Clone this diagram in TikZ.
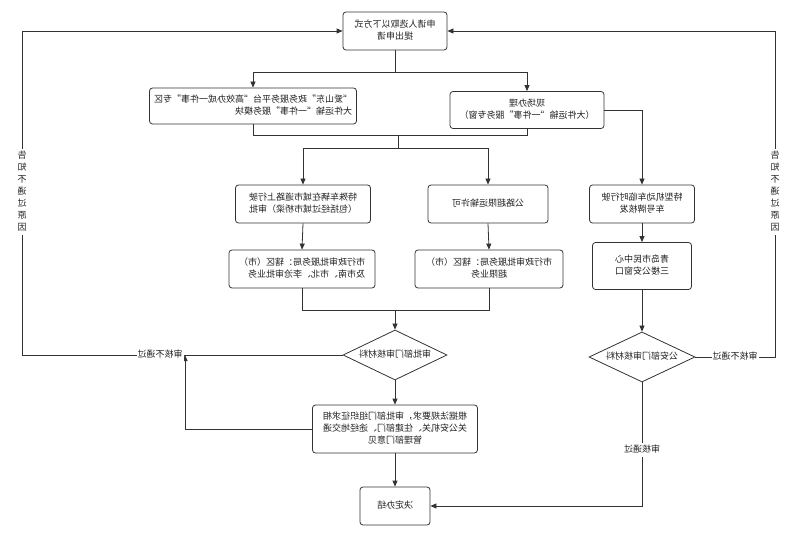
\documentclass[tikz,border=0pt]{standalone}
\usepackage{fontspec}
\usepackage{graphicx}
\setmainfont{Noto Sans CJK SC}
\usetikzlibrary{arrows.meta,shapes.geometric}
\newcommand{\rtext}[2][c]{\reflectbox{\begin{tabular}{@{}#1@{}}#2\end{tabular}}}
\definecolor{ln}{HTML}{333333}
\definecolor{tx}{HTML}{222222}
\begin{document}
\begin{tikzpicture}[x=1pt,y=-1pt,
  font=\fontsize{9}{12}\selectfont,
  box/.style={draw=ln,line width=0.8pt,rounded corners=3pt,fill=white,text=tx,inner sep=2pt,align=center},
  dia/.style={draw=ln,line width=0.8pt,diamond,aspect=2.1,fill=white,text=tx,inner sep=1pt},
  conn/.style={draw=ln,line width=0.8pt},
  arr/.style={conn,-{Triangle[length=6pt,width=5pt]}},
  lab/.style={fill=white,text=tx,inner sep=1pt}]
\useasboundingbox[fill=white] (0,0) rectangle (800,534);
\renewcommand{\arraystretch}{1}
% boxes
\node[box,minimum width=104pt,minimum height=38pt] (b1) at (395,31) {\rtext{申请人选取以下方式\\提出申请}};
\node[box,minimum width=207pt,minimum height=36pt] (b2) at (253,106) {\rtext[l]{“爱山东”政务服务平台“高效办成一件事”专区\\大件运输“一件事”服务模块}};
\node[box,minimum width=154pt,minimum height=37pt] (b3) at (527,110) {\rtext{现场办理\\（大件运输“一件事”服务专窗）}};
\node[box,minimum width=135pt,minimum height=38pt] (b4) at (303,204) {\rtext[l]{特殊车辆在城市道路上行驶\\（包括经过城市桥梁）审批}};
\node[box,minimum width=120pt,minimum height=38pt] (b5) at (488,204) {\rtext{公路超限运输许可}};
\node[box,minimum width=105pt,minimum height=38pt] (b6) at (642,204) {\rtext{特型机动车临时行驶\\车号牌核发}};
\node[box,minimum width=146pt,minimum height=38pt] (b7) at (302,269) {\rtext[l]{市行政审批服务局：辖区（市）\\及市南、市北、李沧审批业务}};
\node[box,minimum width=148pt,minimum height=38pt] (b8) at (489,269) {\rtext{市行政审批服务局：辖区（市）\\超限业务}};
\node[box,minimum width=99pt,minimum height=47pt] (b9) at (642,266) {\rtext{青岛市民中心\\三楼公安窗口}};
\node[dia,minimum width=104pt,minimum height=50pt] (d1) at (395,355) {\rtext{审批部门审核材料}};
\node[dia,minimum width=106pt,minimum height=50pt] (d2) at (642,357) {\rtext{公安部门审核材料}};
\node[box,minimum width=165pt,minimum height=48pt] (b10) at (395,429) {\rtext{根据法规要求，审批部门组织征求相\\关公安机关、住建部门、途经地交通\\管理部门意见}};
\node[box,minimum width=70pt,minimum height=38pt] (b11) at (395,506) {\rtext{决定办结}};
% helper coordinates
\coordinate (s1) at (395,72);
\coordinate (s2) at (253,72);
\coordinate (s3) at (527,72);
\coordinate (j2) at (253,135);
\coordinate (j3) at (527,135);
\coordinate (jm) at (398,135);
\coordinate (jd) at (398,148);
\coordinate (j4) at (303,148);
\coordinate (j5) at (488,148);
\coordinate (r6) at (642,110);
\coordinate (k7) at (302,310);
\coordinate (k8) at (489,310);
\coordinate (km) at (395,310);
\coordinate (lL) at (22,355);
\coordinate (lT) at (22,31);
\coordinate (rL) at (775,357);
\coordinate (rT) at (775,31);
\coordinate (f1) at (185,429);
\coordinate (f2) at (185,355);
\coordinate (g1) at (642,506);
% connectors
\draw[conn] (b1.south) -- (s1);
\draw[conn] (s2) -- (s3);
\draw[arr] (s2) -- (b2.north);
\draw[arr] (s3) -- (b3.north);
\draw[conn] (b2.south) -- (j2) -- (j3) -- (b3.south);
\draw[conn] (jm) -- (jd);
\draw[conn] (j4) -- (j5);
\draw[arr] (j4) -- (b4.north);
\draw[arr] (j5) -- (b5.north);
\draw[arr] (b3.east) -- (r6) -- (b6.north);
\draw[arr] (b4.south) -- (b7.north);
\draw[arr] (b5.south) -- (b8.north);
\draw[arr] (b6.south) -- (b9.north);
\draw[conn] (b7.south) -- (k7) -- (k8) -- (b8.south);
\draw[arr] (km) -- (d1.north);
\draw[arr] (d1.south) -- (b10.north);
\draw[arr] (b10.south) -- (b11.north);
\draw[arr] (b9.south) -- (d2.north);
\draw[arr] (d1.west) -- (lL) -- (lT) -- (b1.west);
\draw[arr] (d2.east) -- (rL) -- (rT) -- (b1.east);
\draw[arr] (b10.west) -- (f1) -- (f2);
\draw[arr] (d2.south) -- (g1) -- (b11.east);
% labels
\node[lab] (la) at (160,355) {\rtext{审核不通过}};
\node[lab] (lb) at (735,357) {\rtext{审核不通过}};
\node[lab] (lc) at (642,450) {\rtext{审核通过}};
\node[lab] (lv1) at (22,192) {\rtext{告\\知\\不\\通\\过\\原\\因}};
\node[lab] (lv2) at (775,192) {\rtext{告\\知\\不\\通\\过\\原\\因}};
\end{tikzpicture}
\end{document}
